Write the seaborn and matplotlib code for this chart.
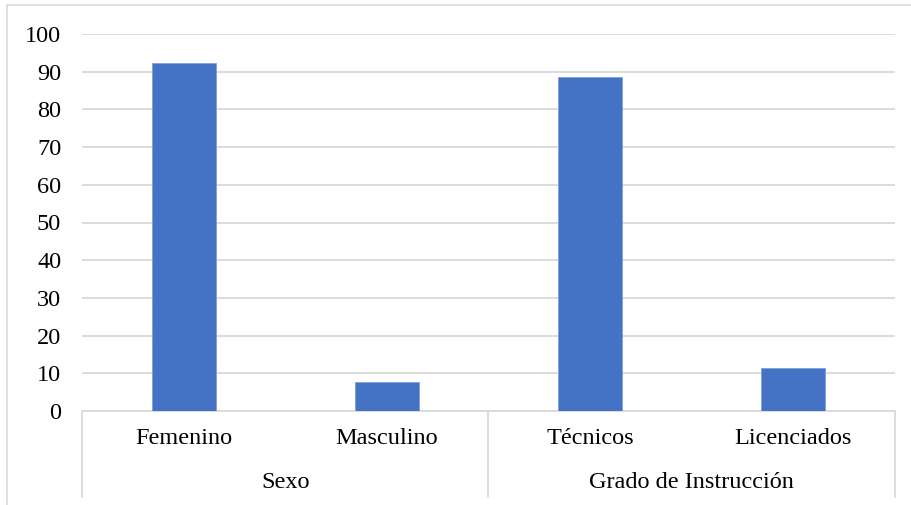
import matplotlib
matplotlib.use("Agg")
import matplotlib.pyplot as plt
from matplotlib.lines import Line2D
import matplotlib.transforms as mtransforms
import pandas as pd
import seaborn as sns

# Data
categorias = ["Femenino", "Masculino", "Técnicos", "Licenciados"]
porcentajes = [92.4, 7.6, 88.7, 11.3]
grupos = ["Sexo", "Grado de Instrucción"]
grupo_de = ["Sexo", "Sexo", "Grado de Instrucción", "Grado de Instrucción"]
ticks_y = [0, 10, 20, 30, 40, 50, 60, 70, 80, 90, 100]

df = pd.DataFrame({"categoria": categorias, "valor": porcentajes, "grupo": grupo_de})

sns.set_theme(style="white")
plt.rcParams["font.family"] = ["Liberation Serif", "DejaVu Serif"]

W, H = 912, 505
FS = 17.5
fig = plt.figure(figsize=(W / 100, H / 100), dpi=100)
ax = fig.add_axes([82 / W, (H - 411) / H, (895 - 82) / W, (411 - 34) / H])

sns.barplot(data=df, x="categoria", y="valor", color="#4472C4", width=0.315,
            saturation=1, ax=ax, zorder=3)
for p in ax.patches:
    p.set_edgecolor("#7f9fdb")
    p.set_linewidth(0.6)

grid_color = "#D9D9D9"
ax.set_ylim(0, 100)
ax.set_xlim(-0.5, len(categorias) - 0.5)
ax.set_yticks(ticks_y)
ax.yaxis.grid(True, color=grid_color, linewidth=1.3, zorder=0)
ax.set_axisbelow(True)
for s in ["top", "right", "left"]:
    ax.spines[s].set_visible(False)
ax.spines["bottom"].set_color(grid_color)
ax.spines["bottom"].set_linewidth(1.3)
ax.tick_params(axis="y", length=0, pad=15, labelsize=FS, labelcolor="#000000")
ax.tick_params(axis="x", length=0, labelbottom=False)
ax.set_xlabel("")
ax.set_ylabel("")

# Two-level category axis
trans = mtransforms.blended_transform_factory(ax.transData, ax.transAxes)
low = -(497 - 411) / 377
for x in [-0.5, 1.5, len(categorias) - 0.5]:
    ax.add_line(Line2D([x, x], [0, low], transform=trans, color=grid_color,
                       linewidth=1.3, clip_on=False))
for i, c in enumerate(categorias):
    ax.text(i, -(438 - 411) / 377, c, transform=trans, ha="center", va="center",
            fontsize=FS, color="#000000")
for j, g in enumerate(grupos):
    ax.text(2 * j + 0.5, -(483 - 411) / 377, g, transform=trans, ha="center",
            va="center", fontsize=FS, color="#000000")

# Chart area frame
fig.add_artist(Line2D([7.5 / W, 7.5 / W], [0, 1 - 4.5 / H], transform=fig.transFigure,
                      color=grid_color, linewidth=1.2))
fig.add_artist(Line2D([7.5 / W, 1], [1 - 4.5 / H, 1 - 4.5 / H], transform=fig.transFigure,
                      color=grid_color, linewidth=1.2))

fig.savefig("out.png", dpi=100, facecolor="white")
